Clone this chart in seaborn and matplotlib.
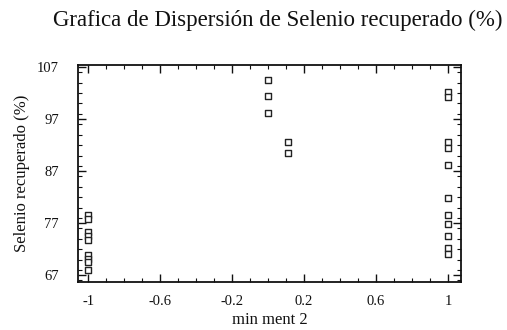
import numpy as np
import pandas as pd
import matplotlib
matplotlib.use("Agg")
import matplotlib.pyplot as plt
import seaborn as sns
from matplotlib.ticker import MultipleLocator, FixedLocator

# Data
x_neg = [-1.0] * 9
y_neg = [78.5, 77.8, 75.3, 74.5, 73.7, 70.8, 70.1, 69.5, 68.0]
x_zero = [0.0] * 3
y_zero = [104.6, 101.4, 98.2]
x_mid = [0.11] * 2
y_mid = [92.6, 90.4]
x_pos = [1.0] * 11
y_pos = [102.2, 101.2, 92.6, 91.4, 88.2, 81.8, 78.6, 76.9, 74.6, 72.3, 71.1]

x_ticks = [-1, -0.6, -0.2, 0.2, 0.6, 1]
x_ticklabels = ["-1", "-0.6", "-0.2", "0.2", "0.6", "1"]
y_ticks = [67, 77, 87, 97, 107]

df = pd.DataFrame({
    "x": x_neg + x_zero + x_mid + x_pos,
    "y": y_neg + y_zero + y_mid + y_pos,
})

sns.set_theme(style="white")
plt.rcParams["font.family"] = ["Liberation Serif", "DejaVu Serif"]

fig = plt.figure(figsize=(5.07, 3.30), dpi=100)
ax = fig.add_axes([0.154, 0.145, 0.755, 0.658])

sns.scatterplot(data=df, x="x", y="y", ax=ax, marker="s", s=18,
                facecolor="white", edgecolor="#222222", linewidth=1.0)

ax.set_xlim(-1.056, 1.072)
ax.set_ylim(65.65, 107.4)
ax.xaxis.set_major_locator(FixedLocator(x_ticks))
ax.set_xticklabels(x_ticklabels)
ax.xaxis.set_minor_locator(MultipleLocator(0.1))
ax.yaxis.set_major_locator(FixedLocator(y_ticks))
ax.yaxis.set_minor_locator(MultipleLocator(2))
ax.set_yticklabels([str(v) for v in y_ticks])

ax.tick_params(which="both", direction="in", top=True, right=True,
               bottom=True, left=True, color="#111111", labelsize=10.5,
               labelcolor="#111111")
ax.tick_params(axis="x", which="both", pad=9)
ax.tick_params(axis="y", which="both", pad=14)
ax.tick_params(which="major", length=6, width=1.0)
ax.tick_params(which="minor", length=3, width=0.8)
for s in ax.spines.values():
    s.set_color("#111111")
    s.set_linewidth(1.3)

ax.set_xlabel("min ment 2", fontsize=12, color="#111111", labelpad=3)
ax.set_ylabel("Selenio recuperado (%)", fontsize=12, color="#111111", labelpad=5)
fig.text(0.547, 0.938, "Grafica de Dispersión de Selenio recuperado (%)",
         ha="center", va="center", fontsize=16.5, color="#111111")

fig.savefig("out.png", dpi=100, facecolor="white")
